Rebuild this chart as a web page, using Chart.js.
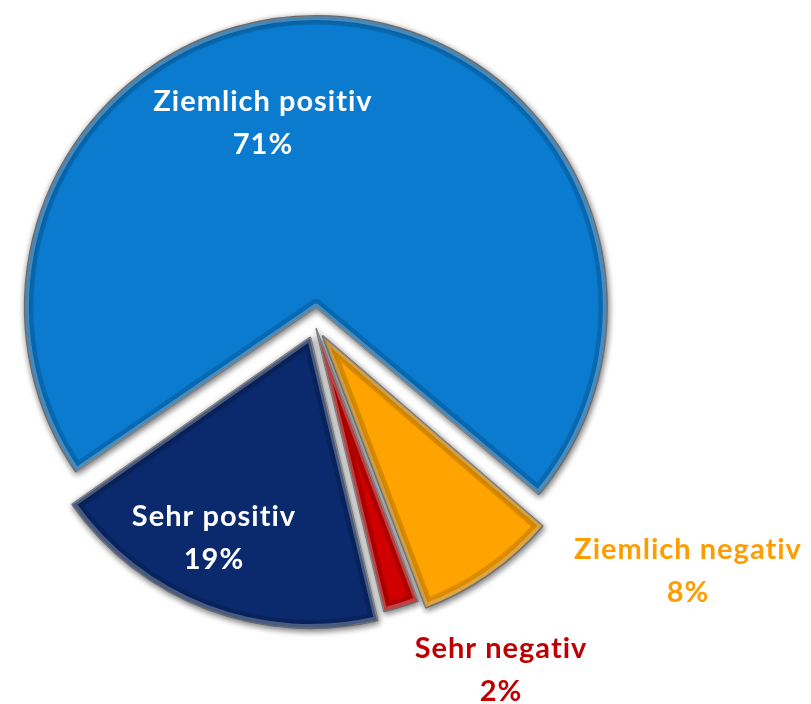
<!DOCTYPE html>
<html>
<head>
<meta charset="utf-8">
<script src="https://cdn.jsdelivr.net/npm/chart.js@4.4.1/dist/chart.umd.min.js"></script>
<style>
  html, body { margin: 0; padding: 0; background: #fff; overflow: hidden; width: 811px; height: 704px; }
  #wrap { position: absolute; left: -40px; top: -40px; width: 891px; height: 784px; }
</style>
</head>
<body>
<div id="wrap"><canvas id="chartPie"></canvas></div>
<script>
/* slices, clockwise from the lower left edge of the big one */
var categories = ['Ziemlich positiv', 'Ziemlich negativ', 'Sehr negativ', 'Sehr positiv'];
var shares = [71, 8, 2, 19];
var sliceColors = ['#0a7bcf', '#ffa300', '#d00000', '#0b2a6d'];
var labelColors = ['#ffffff', '#ff9c00', '#c00000', '#ffffff'];
var explode = [72, 52, 14, 52];
/* label anchors, offset from the pie centre */
var labelOffsets = [[-52, -202], [373, 246], [186, 345], [-101, 213]];

var SHIFT = 4; /* v4 arcs are moved by offset / 4 when drawn */

function radiusFix(el) {
  return (el.options.offset / SHIFT) * (1 - Math.sin(Math.min(Math.PI, el.circumference)));
}

/* keep all slices the same radius after exploding */
var evenRadius = {
  id: 'evenRadius',
  afterDatasetUpdate: function (chart, args) {
    chart.getDatasetMeta(args.index).data.forEach(function (el) {
      el.outerRadius -= radiusFix(el);
    });
  }
};

/* drop shadow + bevelled rim, like the old office 3d pies */
var bands = [['rgba(0,0,0,0.14)', 8], ['rgba(255,255,255,0.26)', 3.5]];
var shade = {
  id: 'shade',
  beforeDatasetsDraw: function (chart) {
    var ctx = chart.ctx;
    ctx.save();
    ctx.shadowColor = 'rgba(0,0,0,0.55)';
    ctx.shadowBlur = 6;
    ctx.shadowOffsetX = 1;
    ctx.shadowOffsetY = 2;
  },
  afterDatasetsDraw: function (chart) {
    var ctx = chart.ctx;
    ctx.restore();
    chart.getDatasetMeta(0).data.forEach(function (el) {
      var o = el.options;
      var move = o.offset / SHIFT;
      var fix = radiusFix(el);
      var half = (el.startAngle + el.endAngle) / 2;
      var R = el.outerRadius + fix;
      var alpha = el.endAngle - el.startAngle;
      var beta = Math.max(0.001, alpha * R - fix / Math.PI) / R;
      var trim = (alpha - beta) / 2;
      var ghost = Object.create(Object.getPrototypeOf(el));
      Object.assign(ghost, {
        x: el.x + Math.cos(half) * move,
        y: el.y + Math.sin(half) * move,
        startAngle: el.startAngle + trim,
        endAngle: el.endAngle - trim,
        circumference: beta,
        innerRadius: 0,
        outerRadius: R - 0.5
      });
      bands.forEach(function (b) {
        ghost.options = Object.assign({}, o, {
          offset: 0, spacing: 0, backgroundColor: 'rgba(0,0,0,0)',
          borderColor: b[0], borderWidth: b[1], borderAlign: 'inner'
        });
        ghost.draw(ctx);
      });
    });
  }
};

var sliceLabels = {
  id: 'sliceLabels',
  afterDraw: function (chart) {
    var c = chart.getDatasetMeta(0).data[0];
    var ctx = chart.ctx;
    ctx.save();
    ctx.font = '700 29px Lato';
    ctx.letterSpacing = '1px';
    ctx.textAlign = 'center';
    ctx.textBaseline = 'middle';
    categories.forEach(function (name, i) {
      var x = c.x + labelOffsets[i][0], y = c.y + labelOffsets[i][1];
      ctx.fillStyle = labelColors[i];
      ctx.fillText(name, x, y - 21);
      ctx.fillText(shares[i] + '%', x, y + 22);
    });
    ctx.restore();
  }
};

new Chart(document.getElementById('chartPie'), {
  type: 'pie',
  data: {
    labels: categories,
    datasets: [{
      data: shares,
      backgroundColor: sliceColors,
      borderColor: '#6b6b6b',
      borderWidth: 1.5,
      offset: explode,
      hoverOffset: 0
    }]
  },
  options: {
    responsive: true,
    maintainAspectRatio: false,
    animation: false,
    events: [],
    rotation: 235,
    layout: { padding: { left: 27, top: 37, right: 208, bottom: 91 } },
    plugins: { legend: { display: false }, tooltip: { enabled: false } }
  },
  plugins: [evenRadius, shade, sliceLabels]
});
</script>
</body>
</html>
